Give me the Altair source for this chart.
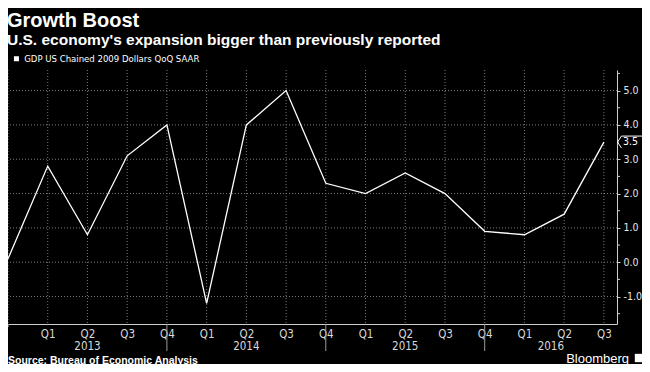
import json
import altair as alt
import pandas as pd

# ---- data -------------------------------------------------------------
quarters = ["Q4", "Q1", "Q2", "Q3", "Q4", "Q1", "Q2", "Q3",
            "Q4", "Q1", "Q2", "Q3", "Q4", "Q1", "Q2", "Q3"]
years = [2012, 2013, 2013, 2013, 2013, 2014, 2014, 2014,
         2014, 2015, 2015, 2015, 2015, 2016, 2016, 2016]
gdp = [0.1, 2.8, 0.8, 3.1, 4.0, -1.2, 4.0, 5.0,
       2.3, 2.0, 2.6, 2.0, 0.9, 0.8, 1.4, 3.5]
series_name = "GDP US Chained 2009 Dollars QoQ SAAR"
year_labels = ["2013", "2014", "2015", "2016"]
y_major = [-1.0, 0.0, 1.0, 2.0, 3.0, 4.0, 5.0]
y_minor = [-1.5, -0.5, 0.5, 1.5, 2.5, 3.5, 4.5, 5.5]

title_text = "Growth Boost"
subtitle_text = "U.S. economy's expansion bigger than previously reported"
source_text = "Source: Bureau of Economic Analysis"
brand_text = "Bloomberg"

# ---- derived tables -------------------------------------------------------
idx = list(range(len(gdp)))
x_max = len(gdp) - 1 + 0.33
df = pd.DataFrame({"i": idx, "q": quarters, "year": years, "gdp": gdp,
                   "series": series_name})

seps = [i for i, q in enumerate(quarters) if q == "Q4"]
sep_df = pd.DataFrame({"i": seps[1:]})
start_df = pd.DataFrame({"i": seps[:1]})
bounds = seps + [x_max]
year_df = pd.DataFrame({
    "label": year_labels,
    "pos": [(bounds[k] + bounds[k + 1]) / 2 for k in range(len(year_labels))],
})
ygrid_df = pd.DataFrame({"v": y_major})
yminor_df = pd.DataFrame({"v": y_minor})
last_df = df.tail(1).assign(lab=lambda d: d["gdp"].map(lambda v: f"{v:.1f}"))
text_df = pd.DataFrame({"t": [title_text]})

W, H = 609, 254
COND = "DejaVu Sans Condensed"
GRID = "#7a7a7a"

q_label_expr = ("datum.value == 0 ? '' : " + json.dumps(quarters) +
                "[datum.value]")

x_scale = alt.Scale(domain=[0, x_max], nice=False, zero=False)
y_scale = alt.Scale(domain=[-1.8, 5.6], nice=False, zero=False)

x_axis = alt.Axis(
    values=idx, labelExpr=q_label_expr, title=None, grid=False,
    domainColor="#cfcfcf", domainWidth=1, ticks=False,
    labelPadding=4, labelFont=COND, labelFontSize=11.5, labelColor="#d9d9d9",
    labelBaseline="top", labelOverlap=False,
)
y_axis = alt.Axis(
    orient="right", values=y_major, format=".1f", title=None, grid=False,
    labelOverlap=False,
    domainColor="#cfcfcf", domainWidth=1,
    tickColor="#cfcfcf", tickSize=3, tickWidth=1,
    labelPadding=3, labelFont=COND, labelFontSize=10.5, labelColor="#e6e6e6",
)

X = lambda f: alt.X(f, scale=x_scale)
Y = lambda f: alt.Y(f, scale=y_scale)

# first layers carry the axes (first layer's axis wins when merged)
vgrid = alt.Chart(df).mark_rule(
    color=GRID, strokeWidth=1, strokeDash=[1, 2]
).encode(x=alt.X("i:Q", scale=x_scale, axis=x_axis))

hgrid = alt.Chart(ygrid_df).mark_rule(
    color=GRID, strokeWidth=1, strokeDash=[1, 2]
).encode(y=alt.Y("v:Q", scale=y_scale, axis=y_axis))

minor_ticks = alt.Chart(yminor_df).mark_rule(color="#cfcfcf", strokeWidth=1).encode(
    y=Y("v:Q"), x=alt.value(W), x2=alt.value(W + 3))

sep_ticks = alt.Chart(sep_df).mark_rule(color="#9a9a9a", strokeWidth=1).encode(
    x=X("i:Q"), y=alt.value(H), y2=alt.value(H + 27))
start_tick = alt.Chart(start_df).mark_rule(color="#cfcfcf", strokeWidth=1).encode(
    x=X("i:Q"), y=alt.value(H), y2=alt.value(H + 3))

line = alt.Chart(df).mark_line(strokeWidth=1.3, color="white").encode(
    x=X("i:Q"),
    y=Y("gdp:Q"),
    color=alt.Color(
        "series:N", scale=alt.Scale(range=["white"]),
        legend=alt.Legend(
            title=None, orient="none", legendX=3.7, legendY=-16,
            symbolType="square", symbolSize=25, symbolFillColor="white",
            symbolStrokeColor="white", symbolStrokeWidth=0,
            labelFont=COND, labelFontSize=9.5, labelColor="white",
            labelOffset=3, padding=0, labelLimit=0,
        ),
    ),
)

years_txt = alt.Chart(year_df).mark_text(
    font=COND, fontSize=11.5, color="#d9d9d9", baseline="alphabetic",
    align="center",
).encode(x=X("pos:Q"), y=alt.value(H + 26), text="label:N")

flag = alt.Chart(last_df).mark_point(
    shape="M4,-6L0,0L4,6M4,-6L50,-6", size=4, filled=False,
    stroke="white", strokeWidth=1, opacity=1,
).encode(x=alt.value(W + 0.5), y=Y("gdp:Q"))

flag_bg = alt.Chart(last_df).mark_point(
    shape="M4,-5.5L1,0L4,5.5L40,5.5L40,-5.5Z", size=4, filled=True,
    fill="black", strokeWidth=0, opacity=1,
).encode(x=alt.value(W + 0.5), y=Y("gdp:Q"))

flag_txt = alt.Chart(last_df).mark_text(
    font=COND, fontSize=10.5, color="white", align="left", baseline="middle",
).encode(x=alt.value(W + 6), y=Y("gdp:Q"), text="lab:N")

title_mark = alt.Chart(text_df).mark_text(
    font="Liberation Sans", fontSize=20, fontWeight="bold", color="white",
    align="left", baseline="alphabetic", text=title_text,
).encode(x=alt.value(-1), y=alt.value(19 - 62))

subtitle_mark = alt.Chart(text_df).mark_text(
    font="Liberation Sans", fontSize=15.5, fontWeight="bold", color="white",
    align="left", baseline="alphabetic", text=subtitle_text,
).encode(x=alt.value(-1), y=alt.value(36.5 - 62))

source = alt.Chart(text_df).mark_text(
    font="Liberation Sans", fontSize=10.5, fontWeight="bold", color="white",
    align="left", baseline="alphabetic", text=source_text,
).encode(x=alt.value(0), y=alt.value(H + 39.5))

brand = alt.Chart(text_df).mark_text(
    font="Liberation Sans", fontSize=13, color="white",
    align="right", baseline="alphabetic", text=brand_text,
).encode(x=alt.value(W + 12), y=alt.value(H + 38.5))

logo = alt.Chart(text_df).mark_point(
    shape="square", size=70, filled=True, color="white", opacity=1,
).encode(x=alt.value(W + 22), y=alt.value(H + 34))

chart = alt.layer(
    vgrid, hgrid, minor_ticks, sep_ticks, start_tick, line, years_txt,
    flag_bg, flag, flag_txt,
    title_mark, subtitle_mark, source, brand, logo,
).properties(
    width=W, height=H,
    padding={"left": 0, "top": 62, "right": 25, "bottom": 40},
    autosize=alt.AutoSizeParams(type="none"),
).configure(
    background="black",
    locale=alt.Locale(number=alt.NumberLocale(
        decimal=".", thousands=",", grouping=[3], currency=["$", ""],
        minus="-")),
).configure_view(strokeWidth=0)

chart.save("out.html", embed_options={"renderer": "svg", "actions": False})
